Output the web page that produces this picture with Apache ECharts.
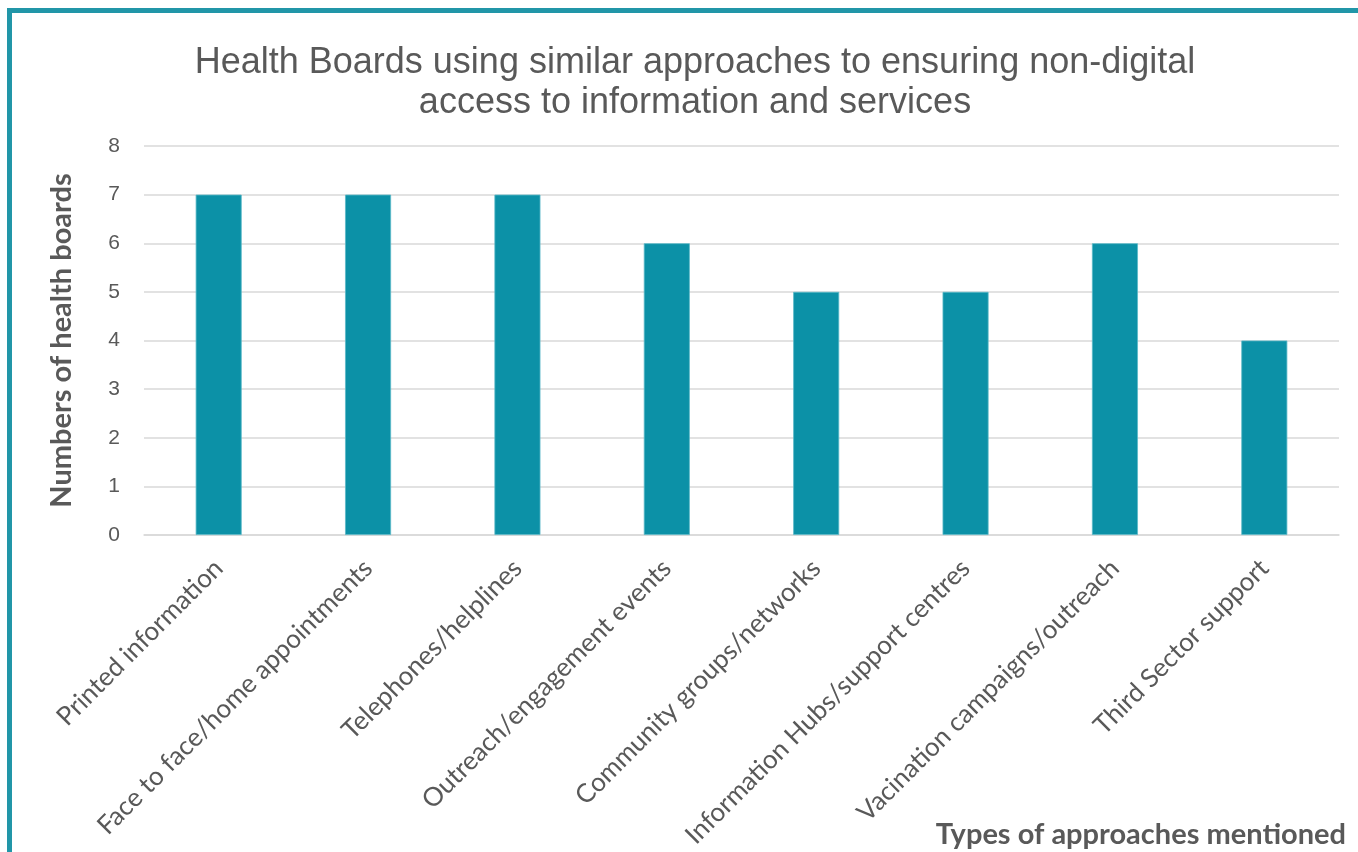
<!DOCTYPE html>
<html><head><meta charset="utf-8">
<script src="https://cdn.jsdelivr.net/npm/echarts@6/dist/echarts.min.js"></script>
<style>html,body{margin:0;padding:0;background:#fff}#c{width:1358px;height:852px}</style>
</head><body><div id="c"></div>
<script>
const categories = ["Printed information","Face to face/home appointments","Telephones/helplines","Outreach/engagement events","Community groups/networks","Information Hubs/support centres","Vacination campaigns/outreach","Third Sector support"];
const values = [7,7,7,6,5,5,6,4];
const titleLines = ["Health Boards using similar approaches to ensuring non-digital","access to information and services"];
const yAxisName = "Numbers of health boards";
const xAxisName = "Types of approaches mentioned";

const chart = echarts.init(document.getElementById('c'));
chart.setOption({
  animation:false,
  title:{text:titleLines.join('\n'),left:690,textAlign:'center',top:38,
    textStyle:{fontFamily:'Liberation Sans',fontSize:36,fontWeight:'normal',color:'#595959',lineHeight:40}},
  graphic:[
    {type:'rect',shape:{x:7,y:8,width:1351,height:5},style:{fill:'#2196a8'}},
    {type:'rect',shape:{x:7,y:8,width:5,height:844},style:{fill:'#2196a8'}},
    {type:'text',right:12,top:820,style:{text:xAxisName,font:'bold 29px Lato',fill:'#595959'}}
  ],
  grid:{left:144,right:19,top:146,bottom:317},
  xAxis:{type:'category',data:categories,
    axisLine:{show:true,lineStyle:{color:'#d9d9d9',width:1.5}},
    axisTick:{show:false},
    axisLabel:{rotate:45,interval:0,margin:29,fontFamily:'Lato',fontSize:26,color:'#595959'}},
  yAxis:{type:'value',min:0,max:8,interval:1,
    name:yAxisName,nameLocation:'middle',nameGap:68,
    nameTextStyle:{fontFamily:'Lato',fontSize:29,fontWeight:'bold',color:'#595959'},
    axisLine:{show:false},axisTick:{show:false},
    axisLabel:{fontFamily:'Liberation Sans',fontSize:21,color:'#595959',margin:24},
    splitLine:{lineStyle:{color:'#d9d9d9',width:1.5}}},
  series:[{type:'bar',data:values,barWidth:46,
    itemStyle:{color:'#0c91a7',borderColor:'#5bb9c8',borderWidth:0.8}}]
});
</script></body></html>
